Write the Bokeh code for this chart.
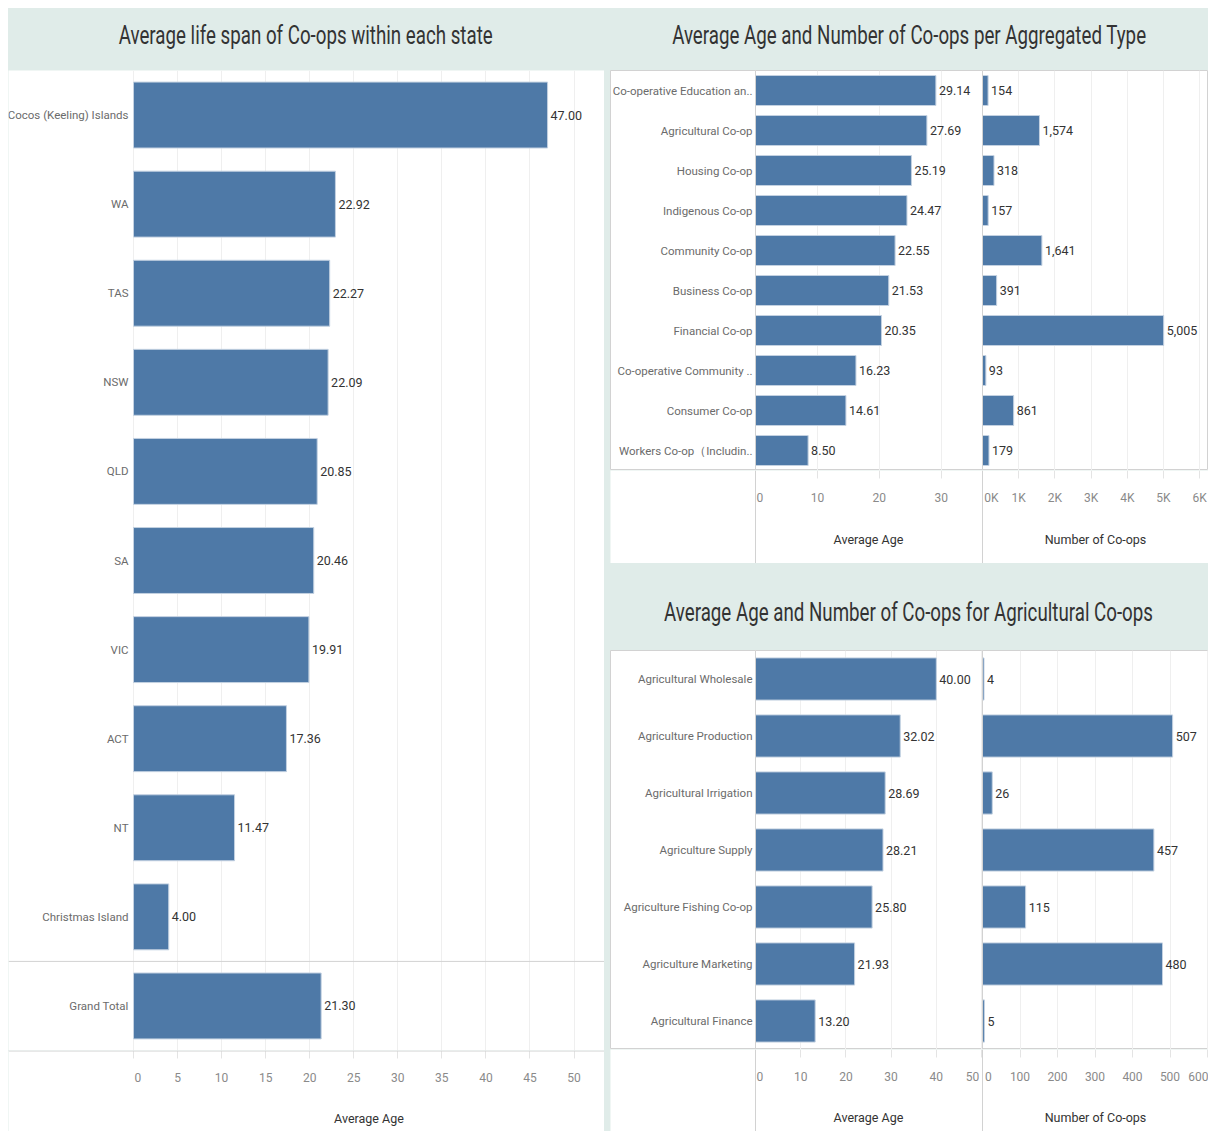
from bokeh.plotting import figure
from bokeh.models import (FactorRange, Range1d, LinearAxis, CategoricalAxis, FixedTicker,
                          Grid, Span, Div, Spacer, ColumnDataSource)
from bokeh.layouts import row, column
from bokeh.core.properties import value
from bokeh.embed import file_html
from bokeh.resources import INLINE

# ---------------- data ----------------
states = ["Cocos (Keeling) Islands", "WA", "TAS", "NSW", "QLD", "SA", "VIC", "ACT", "NT",
          "Christmas Island", "Grand Total"]
state_age = [47.00, 22.92, 22.27, 22.09, 20.85, 20.46, 19.91, 17.36, 11.47, 4.00, 21.30]

types = ["Co-operative Education an..", "Agricultural Co-op", "Housing Co-op", "Indigenous Co-op",
         "Community Co-op", "Business Co-op", "Financial Co-op", "Co-operative Community ..",
         "Consumer Co-op", "Workers Co-op（Includin.."]
type_age = [29.14, 27.69, 25.19, 24.47, 22.55, 21.53, 20.35, 16.23, 14.61, 8.50]
type_count = [154, 1574, 318, 157, 1641, 391, 5005, 93, 861, 179]

agri = ["Agricultural Wholesale", "Agriculture Production", "Agricultural Irrigation",
        "Agriculture Supply", "Agriculture Fishing Co-op", "Agriculture Marketing",
        "Agricultural Finance"]
agri_age = [40.00, 32.02, 28.69, 28.21, 25.80, 21.93, 13.20]
agri_count = [4, 507, 26, 457, 115, 480, 5]

state_ticks = [0, 5, 10, 15, 20, 25, 30, 35, 40, 45, 50]
type_age_ticks = [0, 10, 20, 30]
type_count_ticks = [0, 1000, 2000, 3000, 4000, 5000, 6000]
type_count_tick_labels = ["0K", "1K", "2K", "3K", "4K", "5K", "6K"]
agri_age_ticks = [0, 10, 20, 30, 40, 50]
agri_count_ticks = [0, 100, 200, 300, 400, 500, 600]

titles = ["Average life span of Co-ops within each state",
          "Average Age and Number of Co-ops per Aggregated Type",
          "Average Age and Number of Co-ops for Agricultural Co-ops"]

# ---------------- style ----------------
TEAL = "#e0ece9"
BLUE = "#4e79a7"
EDGE = "#c3d1e1"
GRID = "#efefef"
LINE = "#d2d2d2"
TICK = "#e4e4e4"
FONT = "Roboto"
NB = "\u00a0"
LBL_FS = "11.5px"
VAL_FS = "12.5px"
TICK_FS = "12px"
AXT_FS = "12.5px"


def title_div(text, w, h, pad, fs, sx):
    html = (f'<div style="width:{w}px;height:{h}px;box-sizing:border-box;padding-top:{pad}px;'
            f'display:flex;justify-content:center;align-items:flex-start;overflow:hidden;">'
            f'<span style="display:inline-block;white-space:nowrap;font-family:\'{FONT}\';'
            f'font-size:{fs}px;line-height:{fs + 4}px;color:#333333;'
            f'transform:scaleX({sx});transform-origin:center;">{text}</span></div>')
    return Div(text=html, width=w, height=h,
               styles={"background-color": TEAL, "margin": "0", "padding": "0"})


def base_fig(w, h, x_rng, y_rng, outline):
    p = figure(width=w, height=h, x_range=x_rng, y_range=y_rng,
               x_axis_location=None, y_axis_location=None, toolbar_location=None,
               output_backend="svg", min_border=0, background_fill_color="white",
               border_fill_color="white", outline_line_color=LINE if outline else None)
    p.xgrid.visible = False
    p.ygrid.visible = False
    return p


def add_grid(p, ticks, rname="default"):
    p.add_layout(Grid(dimension=0, ticker=FixedTicker(ticks=ticks), grid_line_color=GRID,
                      x_range_name=rname))


def add_bars(p, cats, vals, labels, bh, rname="default"):
    src = ColumnDataSource(dict(cat=cats, val=vals, lbl=labels))
    p.hbar(y="cat", left=0, right="val", height=bh, source=src, fill_color=BLUE,
           line_color=EDGE, line_width=1, x_range_name=rname)
    p.text(x="val", y="cat", text="lbl", source=src, x_offset=3, text_align="left",
           text_baseline="middle", text_font=value(FONT), text_font_size=VAL_FS,
           text_color="#333333", x_range_name=rname)


def add_yaxis(p, line, standoff):
    ax = CategoricalAxis(fixed_location=0, axis_line_color=LINE if line else None,
                         major_tick_line_color=None, minor_tick_line_color=None,
                         major_tick_out=0, major_tick_in=0,
                         major_label_standoff=standoff,
                         major_label_text_font=FONT, major_label_text_font_size=LBL_FS,
                         major_label_text_color="#6b6b6b")
    p.add_layout(ax, "left")


def add_xaxis(p, ticks, overrides, bounds, label, loc, lstand, tstand, rname="default"):
    ax = LinearAxis(fixed_location=loc, ticker=FixedTicker(ticks=ticks), bounds=bounds,
                    axis_label=label, axis_line_color=None,
                    major_tick_out=8, major_tick_in=0, major_tick_line_color=TICK,
                    minor_tick_line_color=None, major_label_standoff=lstand,
                    major_label_overrides=overrides,
                    major_label_text_font=FONT, major_label_text_font_size=TICK_FS,
                    major_label_text_color="#8a8a8a",
                    axis_label_standoff=tstand, axis_label_text_font=FONT,
                    axis_label_text_font_size=AXT_FS, axis_label_text_font_style="normal",
                    axis_label_text_color="#333333", x_range_name=rname)
    p.add_layout(ax, "below")


# ---------------- left panel ----------------
LW = 596
L_OFF, L_PPU = 125, 8.81
l_rng = (-L_OFF / L_PPU, (LW - L_OFF) / L_PPU)

lb = base_fig(LW, 980, Range1d(*l_rng), FactorRange(factors=list(reversed(states))), False)
add_grid(lb, state_ticks)
add_bars(lb, states, state_age, [f"{v:.2f}" for v in state_age], 0.74)
add_yaxis(lb, False, 5)
lb.add_layout(Span(location=1, dimension="width", line_color=LINE, line_width=1))

LAH = 81
la = base_fig(LW, LAH, Range1d(*l_rng), Range1d(0, LAH), False)
la.add_layout(Span(location=LAH - 0.5, dimension="width", line_color=LINE, line_width=1))
add_xaxis(la, state_ticks, {0: NB * 3 + "0"}, (0, l_rng[1]), "Average Age", LAH, 12, 23)

left_col = column(title_div(titles[0], LW, 60, 12, 26, 0.72), Spacer(width=LW, height=2), lb, la,
                  spacing=0)

# ---------------- right panels ----------------
RW = 598
A_OFF, N_OFF = 145, 372


def right_panel(cats, ages, counts, age_ppu, num_ppu, age_ticks, age_over, num_ticks, num_over,
                count_fmt, bh, bars_h, axis_h, lstand, tstand):
    a_rng = (-A_OFF / age_ppu, (RW - A_OFF) / age_ppu)
    n_rng = (-N_OFF / num_ppu, (RW - N_OFF) / num_ppu)
    a_end = (N_OFF - 1 - A_OFF) / age_ppu

    pb = base_fig(RW, bars_h, Range1d(*a_rng), FactorRange(factors=list(reversed(cats))), True)
    pb.extra_x_ranges = {"num": Range1d(*n_rng)}
    add_grid(pb, age_ticks)
    add_grid(pb, num_ticks, "num")
    add_bars(pb, cats, ages, [f"{v:.2f}" for v in ages], bh)
    add_bars(pb, cats, counts, [count_fmt(v) for v in counts], bh, "num")
    add_yaxis(pb, True, 3)
    pb.add_layout(Span(location=0, dimension="height", line_color=LINE, line_width=1,
                       x_range_name="num"))

    pa = base_fig(RW, axis_h, Range1d(*a_rng), Range1d(0, axis_h), False)
    pa.extra_x_ranges = {"num": Range1d(*n_rng)}
    pa.add_layout(Span(location=0, dimension="height", line_color=LINE, line_width=1))
    pa.add_layout(Span(location=0, dimension="height", line_color=LINE, line_width=1,
                       x_range_name="num"))
    add_xaxis(pa, age_ticks, age_over, (0, a_end), "Average Age", axis_h, lstand, tstand)
    add_xaxis(pa, num_ticks, num_over, (0, n_rng[1]), "Number of Co-ops", axis_h, lstand, tstand,
              "num")
    return pb, pa


tb, ta = right_panel(types, type_age, type_count, 6.19, 0.0362,
                     type_age_ticks, {0: NB * 3 + "0"},
                     type_count_ticks,
                     {t: (NB * 6 + l if t == 0 else l)
                      for t, l in zip(type_count_ticks, type_count_tick_labels)},
                     lambda v: f"{v:,}", 0.75, 400, 93, 12, 24)

ab, aa = right_panel(agri, agri_age, agri_count, 4.52, 0.375,
                     agri_age_ticks, {0: NB * 3 + "0", 50: "50" + NB * 6},
                     agri_count_ticks, {0: NB * 4 + "0"},
                     lambda v: f"{v:,}", 0.74, 399, 82, 12, 23)

right_col = column(title_div(titles[1], RW, 60, 12, 26, 0.72), Spacer(width=RW, height=2), tb, ta,
                   title_div(titles[2], RW, 85, 34, 26, 0.72), Spacer(width=RW, height=2), ab, aa,
                   spacing=0)

root = row(left_col, Spacer(width=6), right_col, spacing=0,
           styles={"background-color": TEAL})
page = column(Spacer(width=1208, height=8), row(Spacer(width=8, height=1123), root, spacing=0),
              spacing=0)

open("out.html", "w").write(file_html(page, INLINE))
